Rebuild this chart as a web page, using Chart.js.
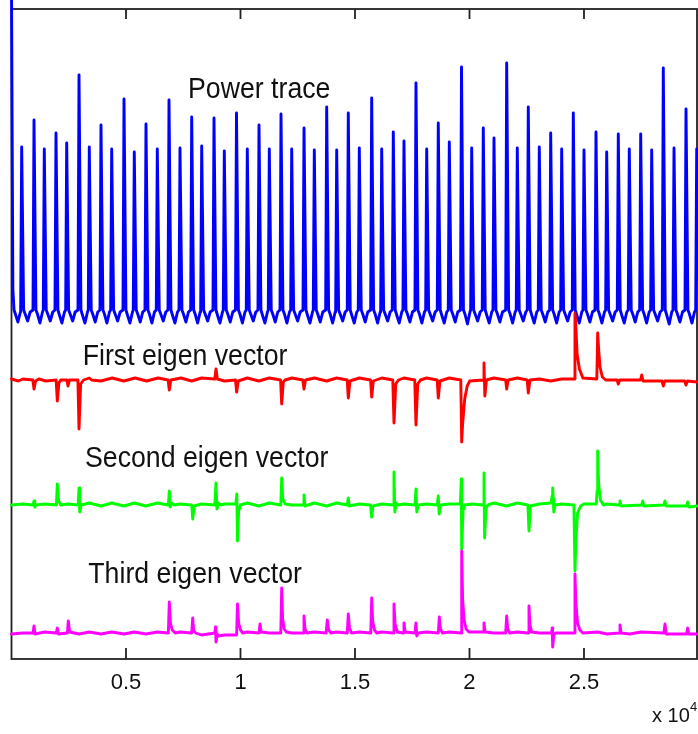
<!DOCTYPE html>
<html>
<head>
<meta charset="utf-8">
<script src="https://cdn.jsdelivr.net/npm/chart.js@4.4.1/dist/chart.umd.min.js"></script>
<style>
  html, body { margin: 0; padding: 0; background: #fff; }
  canvas { display: block; }
</style>
</head>
<body>
<canvas id="c" width="698" height="734"></canvas>
<script>
// x values are sample indices; the axis shows them in units of 10^4
const sampleTicks = [5000, 10000, 15000, 20000, 25000];
const tickLabels = ['0.5', '1', '1.5', '2', '2.5'];
const seriesNames = ['Power trace', 'First eigen vector', 'Second eigen vector', 'Third eigen vector'];

// Power trace (offset upward), one clock cycle per row: rise, peak, fall, ripple
const powerTrace = [
  [0,67.0],[60,37.0],[110,34.9],[170,34.5],[280,33.7],[390,34.7],
  [400,34.9],[445,51.2],[530,34.9],[595,34.5],[705,33.8],[815,34.7],
  [938,34.9],[983,53.9],[1068,34.9],[1133,34.5],[1243,33.6],[1353,34.7],
  [1387,34.9],[1432,51.0],[1517,34.9],[1582,34.5],[1692,33.8],[1802,34.7],
  [1898,34.9],[1943,52.6],[2028,34.9],[2093,34.4],[2203,33.6],[2313,34.7],
  [2365,34.9],[2410,51.6],[2495,34.9],[2560,34.5],[2670,33.8],[2780,34.7],
  [2903,34.9],[2948,58.4],[3033,34.9],[3098,34.4],[3208,33.6],[3318,34.7],
  [3352,34.9],[3397,51.2],[3482,34.9],[3547,34.5],[3657,33.7],[3767,34.7],
  [3863,34.9],[3908,53.4],[3993,34.9],[4058,34.5],[4168,33.6],[4278,34.7],
  [4330,34.9],[4375,51.0],[4460,34.9],[4525,34.5],[4635,33.8],[4745,34.7],
  [4868,34.9],[4913,56.0],[4998,34.9],[5063,34.4],[5173,33.6],[5283,34.7],
  [5317,34.9],[5362,50.7],[5447,34.9],[5512,34.5],[5622,33.7],[5732,34.7],
  [5828,34.9],[5873,53.5],[5958,34.9],[6023,34.5],[6133,33.6],[6243,34.7],
  [6322,34.9],[6367,51.0],[6452,34.9],[6517,34.5],[6627,33.8],[6737,34.7],
  [6833,34.9],[6878,55.9],[6963,34.9],[7028,34.4],[7138,33.6],[7248,34.7],
  [7313,34.9],[7358,51.1],[7443,34.9],[7508,34.5],[7618,33.7],[7728,34.7],
  [7824,34.9],[7869,54.2],[7954,34.9],[8019,34.5],[8129,33.6],[8239,34.7],
  [8261,34.9],[8306,51.3],[8391,34.9],[8456,34.5],[8566,33.8],[8676,34.7],
  [8798,34.9],[8843,54.1],[8928,34.9],[8993,34.4],[9103,33.6],[9213,34.7],
  [9248,34.9],[9293,50.8],[9378,34.9],[9443,34.5],[9553,33.7],[9663,34.7],
  [9780,34.9],[9825,54.6],[9910,34.9],[9975,34.5],[10085,33.6],[10195,34.7],
  [10252,34.9],[10297,51.0],[10382,34.9],[10447,34.5],[10557,33.8],[10667,34.7],
  [10763,34.9],[10808,53.4],[10893,34.9],[10958,34.4],[11068,33.6],[11178,34.7],
  [11213,34.9],[11258,51.0],[11343,34.9],[11408,34.5],[11518,33.7],[11628,34.7],
  [11724,34.9],[11769,54.5],[11854,34.9],[11919,34.5],[12029,33.6],[12139,34.7],
  [12191,34.9],[12236,51.0],[12321,34.9],[12386,34.5],[12496,33.8],[12606,34.7],
  [12729,34.9],[12774,53.1],[12859,34.9],[12924,34.4],[13034,33.6],[13144,34.7],
  [13178,34.9],[13223,50.9],[13308,34.9],[13373,34.5],[13483,33.7],[13593,34.7],
  [13719,34.9],[13764,55.2],[13849,34.9],[13914,34.5],[14024,33.6],[14134,34.7],
  [14156,34.9],[14201,50.9],[14286,34.9],[14351,34.5],[14461,33.8],[14571,34.7],
  [14662,34.9],[14707,54.6],[14792,34.9],[14857,34.4],[14967,33.6],[15077,34.7],
  [15143,34.9],[15188,51.1],[15273,34.9],[15338,34.5],[15448,33.7],[15558,34.7],
  [15684,34.9],[15729,56.1],[15814,34.9],[15879,34.5],[15989,33.6],[16099,34.7],
  [16121,34.9],[16166,51.0],[16251,34.9],[16316,34.5],[16426,33.8],[16536,34.7],
  [16627,34.9],[16672,52.7],[16757,34.9],[16822,34.4],[16932,33.6],[17042,34.7],
  [17094,34.9],[17139,51.8],[17224,34.9],[17289,34.5],[17399,33.7],[17509,34.7],
  [17618,34.9],[17663,57.6],[17748,34.9],[17813,34.5],[17923,33.6],[18033,34.7],
  [18086,34.9],[18131,51.0],[18216,34.9],[18281,34.5],[18391,33.8],[18501,34.7],
  [18592,34.9],[18637,53.6],[18722,34.9],[18787,34.4],[18897,33.6],[19007,34.7],
  [19073,34.9],[19118,51.7],[19203,34.9],[19268,34.5],[19378,33.7],[19488,34.7],
  [19606,34.9],[19651,59.2],[19736,34.9],[19801,34.5],[19911,33.5],[20021,34.7],
  [20051,34.9],[20096,51.1],[20181,34.9],[20246,34.5],[20356,33.8],[20466,34.7],
  [20557,34.9],[20602,53.1],[20687,34.9],[20752,34.4],[20862,33.6],[20972,34.7],
  [21025,34.9],[21070,52.1],[21155,34.9],[21220,34.5],[21330,33.7],[21440,34.7],
  [21579,34.9],[21624,59.6],[21709,34.9],[21774,34.5],[21884,33.6],[21994,34.7],
  [22042,34.9],[22087,51.1],[22172,34.9],[22237,34.5],[22347,33.8],[22457,34.7],
  [22522,34.9],[22567,55.2],[22652,34.9],[22717,34.4],[22827,33.6],[22937,34.7],
  [23003,34.9],[23048,51.2],[23133,34.9],[23198,34.5],[23308,33.7],[23418,34.7],
  [23501,34.9],[23546,52.6],[23631,34.9],[23696,34.5],[23806,33.6],[23916,34.7],
  [23981,34.9],[24026,51.0],[24111,34.9],[24176,34.5],[24286,33.8],[24396,34.7],
  [24488,34.9],[24533,54.6],[24618,34.9],[24683,34.4],[24793,33.6],[24903,34.7],
  [24955,34.9],[25000,50.9],[25085,34.9],[25150,34.5],[25260,33.7],[25370,34.7],
  [25479,34.9],[25524,52.7],[25609,34.9],[25674,34.5],[25784,33.6],[25894,34.7],
  [25946,34.9],[25991,50.7],[26076,34.9],[26141,34.5],[26251,33.8],[26361,34.7],
  [26453,34.9],[26498,52.5],[26583,34.9],[26648,34.4],[26758,33.6],[26868,34.7],
  [26933,34.9],[26978,51.0],[27063,34.9],[27128,34.5],[27238,33.7],[27348,34.7],
  [27431,34.9],[27476,52.5],[27561,34.9],[27626,34.5],[27736,33.6],[27846,34.7],
  [27911,34.9],[27956,50.9],[28041,34.9],[28106,34.5],[28216,33.8],[28326,34.7],
  [28418,34.9],[28463,59.1],[28548,34.9],[28613,34.4],[28723,33.5],[28833,34.7],
  [28886,34.9],[28931,51.1],[29016,34.9],[29081,34.5],[29191,33.7],[29301,34.7],
  [29410,34.9],[29455,55.0],[29540,34.9],[29605,34.5],[29715,33.6],[29825,34.7],
  [29877,34.9],[29922,51.0],[29990,38.0]
];

// First eigen vector (offset)
const firstEigen = [
  [0,28.0],[300,27.8],[500,28.0],
  [930,27.9],[983,27.0],[1050,27.8],[1200,28.0],[1500,27.8],
  [1950,27.9],[2000,25.8],[2070,27.6],[2150,27.9],
  [2420,27.9],[2467,27.3],[2530,27.9],
  [2900,27.9],[2948,23.0],[3020,27.5],[3150,27.9],
  [3400,28.1],[3500,27.9],[3900,27.8],[4400,28.1],[4900,27.8],[5400,28.1],[5900,27.8],[6400,28.1],
  [6840,27.9],[6891,26.9],[6960,27.9],
  [7400,28.1],[7870,27.8],[8300,28.1],
  [8880,28.0],[8930,29.0],[8990,28.0],[9300,27.8],
  [9780,27.9],[9834,26.7],[9900,27.8],
  [10300,28.1],[10800,27.8],[11260,28.1],
  [11750,27.9],[11799,25.5],[11870,27.7],[11950,27.9],[12250,28.1],
  [12720,27.9],[12773,27.0],[12840,27.9],
  [13230,28.1],[13760,27.8],[14200,28.1],
  [14660,27.9],[14707,26.1],[14780,27.8],[15190,28.1],
  [15680,27.9],[15729,26.2],[15800,27.8],[16170,28.1],
  [16650,27.9],[16703,23.6],[16780,27.5],[16900,27.9],[17140,28.1],
  [17610,27.9],[17663,23.4],[17740,27.5],[17860,27.9],[18130,28.1],
  [18590,27.9],[18637,26.1],[18710,27.8],[19120,28.1],
  [19620,27.9],[19659,21.7],[19700,23.5],[19790,26.0],[19900,27.3],[20010,27.8],
  [20590,27.9],[20633,29.6],[20670,26.3],[20740,27.9],[21070,28.1],
  [21580,27.9],[21624,27.0],[21690,27.9],[22090,28.1],
  [22520,27.9],[22567,26.6],[22640,27.9],
  [23050,28.0],[23550,27.8],[24030,28.0],
  [24570,28.0],[24606,34.6],[24650,33.0],[24700,30.5],[24800,29.0],[24950,28.1],
  [25560,28.0],[25598,32.6],[25640,31.0],[25700,29.2],[25800,28.2],[25950,27.9],
  [26450,27.9],[26498,27.5],[26560,27.9],
  [27470,27.9],[27520,28.4],[27580,27.8],
  [28410,27.8],[28463,27.3],[28530,27.8],
  [29400,27.8],[29455,27.4],[29520,27.8],[29935,27.7]
];

// Second eigen vector (offset)
const secondEigen = [
  [0,15.4],[500,15.5],
  [940,15.4],[983,15.8],[1020,15.2],[1080,15.4],[1450,15.5],
  [1960,15.4],[2000,17.5],[2060,15.8],[2150,15.4],[2470,15.5],
  [2910,15.4],[2948,17.1],[2980,14.7],[3040,15.4],
  [3400,15.6],[3910,15.3],[4380,15.6],[4910,15.3],[5360,15.6],[5870,15.3],[6370,15.6],
  [6850,15.4],[6891,16.8],[6930,15.2],[7000,15.6],[7100,15.4],[7360,15.5],
  [7870,15.4],[7913,14.0],[7980,15.3],[8300,15.5],
  [8880,15.4],[8930,17.6],[8970,15.0],[9050,15.6],[9150,15.4],[9300,15.5],
  [9800,15.5],[9840,16.5],[9869,11.8],[9920,14.8],[10000,15.4],
  [10300,15.6],[10810,15.3],[11260,15.6],
  [11760,15.4],[11799,18.1],[11850,16.0],[11950,15.5],[12240,15.4],
  [12730,15.4],[12773,16.4],[12820,15.3],
  [13230,15.6],[13760,15.3],[14200,15.6],
  [14660,15.4],[14707,16.1],[14750,15.3],[15190,15.5],
  [15680,15.4],[15729,14.2],[15790,15.3],[16170,15.5],
  [16660,15.4],[16703,18.7],[16740,14.7],[16800,15.6],[16900,15.4],[17140,15.5],
  [17620,15.4],[17663,17.0],[17700,14.7],[17760,15.4],[18130,15.5],
  [18590,15.4],[18637,16.3],[18675,14.5],[18740,15.4],[19120,15.5],
  [19600,15.5],[19640,18.0],[19659,11.0],[19720,14.9],[19800,15.4],[20100,15.5],
  [20590,15.4],[20633,18.6],[20660,12.1],[20720,15.0],[20800,15.4],
  [21070,15.6],[21624,15.3],[22090,15.6],
  [22550,15.4],[22598,12.8],[22660,15.3],[23050,15.5],
  [23560,15.6],[23610,16.3],[23633,17.1],[23660,16.0],[23680,14.7],[23730,15.4],[24030,15.5],
  [24560,15.4],[24606,8.8],[24650,12.0],[24720,14.6],[24850,15.3],[25000,15.5],
  [25540,15.5],[25570,16.8],[25598,20.8],[25640,17.5],[25720,15.9],[25850,15.4],[26000,15.5],
  [26530,15.4],[26572,15.8],[26620,15.3],
  [27520,15.4],[27564,15.8],[27610,15.3],
  [28490,15.4],[28537,15.8],[28590,15.3],
  [29480,15.3],[29528,15.7],[29580,15.2],[29935,15.3]
];

// Third eigen vector
const thirdEigen = [
  [0,2.5],[500,2.6],
  [940,2.6],[983,3.3],[1030,2.5],[1450,2.7],
  [1960,2.6],[2000,3.1],[2050,2.5],
  [2440,2.6],[2480,3.8],[2540,2.7],
  [2950,2.5],[3400,2.7],[3910,2.5],[4380,2.7],[4910,2.5],[5360,2.7],[5870,2.5],[6370,2.7],
  [6850,2.6],[6891,5.7],[6940,3.6],[7020,2.9],[7150,2.6],[7360,2.7],
  [7870,2.6],[7913,4.1],[7960,2.8],[8050,2.6],[8300,2.4],
  [8880,2.6],[8910,3.2],[8930,1.7],[8980,2.5],[9050,2.3],[9300,2.4],
  [9830,2.4],[9869,5.5],[9920,3.6],[10000,2.9],[10100,2.6],[10300,2.7],
  [10810,2.6],[10852,3.5],[10900,2.7],[11260,2.6],
  [11760,2.6],[11799,7.1],[11840,4.0],[11910,3.0],[12000,2.7],[12240,2.6],
  [12730,2.6],[12773,4.3],[12820,3.0],[12900,2.6],[13230,2.7],
  [13740,2.6],[13790,3.9],[13850,2.9],[13950,2.6],[14200,2.7],
  [14660,2.6],[14707,4.5],[14760,3.1],[14850,2.6],[15190,2.7],
  [15690,2.6],[15729,6.1],[15770,3.8],[15850,2.9],[15950,2.6],[16170,2.7],
  [16660,2.6],[16703,5.5],[16750,3.5],[16850,2.7],
  [17100,2.6],[17139,3.6],[17190,2.7],
  [17620,2.6],[17663,3.6],[17700,2.3],[17760,2.6],[18130,2.7],
  [18640,2.6],[18681,4.2],[18730,3.0],[18820,2.6],[19120,2.7],
  [19630,2.6],[19659,10.8],[19700,6.0],[19760,4.0],[19850,3.0],[19980,2.7],
  [20590,2.7],[20633,3.6],[20680,2.7],[21070,2.6],
  [21580,2.6],[21624,4.3],[21670,3.0],[21760,2.6],[22090,2.7],
  [22555,2.6],[22598,5.3],[22640,3.4],[22720,2.7],[23050,2.6],
  [23590,2.6],[23610,3.1],[23633,1.2],[23680,2.4],[23760,2.6],[24030,2.6],
  [24570,2.6],[24606,8.5],[24650,5.5],[24720,3.6],[24820,2.9],[24950,2.6],
  [25600,2.7],[26000,2.5],
  [26530,2.6],[26572,3.4],[26620,2.6],
  [27000,2.5],[27500,2.7],
  [28490,2.6],[28537,3.5],[28590,2.5],
  [29480,2.5],[29528,3.1],[29580,2.5],[29935,2.5]
];

// where each trace name is written (sample, value at text baseline)
const labelAnchors = [[7708, 56.1], [3109, 29.4], [3210, 19.2], [3354, 7.6]];

const textColor = '#111';
const axisColor = '#222';

const annotate = {
  id: 'annotate',
  beforeDatasetsDraw(chart) {
    const { ctx, chartArea: a, scales: { x } } = chart;
    ctx.save();
    ctx.strokeStyle = axisColor;
    ctx.lineWidth = 1.8;
    ctx.strokeRect(a.left, a.top, a.right - a.left, a.bottom - a.top);
    ctx.beginPath();
    sampleTicks.forEach(v => {
      const px = x.getPixelForValue(v);
      ctx.moveTo(px, a.bottom); ctx.lineTo(px, a.bottom - 11);
      ctx.moveTo(px, a.top); ctx.lineTo(px, a.top + 10);
    });
    ctx.stroke();
    ctx.restore();
  },
  afterDatasetsDraw(chart) {
    const { ctx, chartArea: a, scales: { x, y } } = chart;
    ctx.save();
    ctx.fillStyle = textColor;
    ctx.textBaseline = 'alphabetic';

    // trace names
    ctx.textAlign = 'left';
    seriesNames.forEach((t, i) => {
      const px = x.getPixelForValue(labelAnchors[i][0]);
      const py = y.getPixelForValue(labelAnchors[i][1]);
      ctx.save();
      ctx.translate(px, py);
      ctx.scale(0.89, 1);
      ctx.font = '30px "Liberation Sans", Arial, sans-serif';
      ctx.fillText(t, 0, 0);
      ctx.restore();
    });

    // tick labels
    ctx.textAlign = 'center';
    ctx.font = '22px "Liberation Sans", Arial, sans-serif';
    sampleTicks.forEach((v, i) => {
      ctx.fillText(tickLabels[i], x.getPixelForValue(v), a.bottom + 30);
    });

    // axis multiplier
    ctx.textAlign = 'left';
    ctx.font = '20px "Liberation Sans", Arial, sans-serif';
    ctx.fillText('x 10', a.right - 45, a.bottom + 63);
    ctx.font = '13px "Liberation Sans", Arial, sans-serif';
    ctx.fillText('4', a.right - 7, a.bottom + 52);
    ctx.restore();
  }
};

const line = (data, color, order) => ({
  data, borderColor: color, backgroundColor: color, order,
  borderWidth: 2.9, pointRadius: 0, tension: 0, fill: false, clip: false
});

new Chart(document.getElementById('c'), {
  type: 'line',
  data: {
    datasets: [
      line(powerTrace, '#0000ff', 4),
      line(firstEigen, '#ff0000', 3),
      line(secondEigen, '#00ff00', 2),
      line(thirdEigen, '#ff00ff', 1)
    ]
  },
  options: {
    responsive: false,
    animation: false,
    events: [],
    layout: { padding: { left: 11.5, right: 1, top: 9, bottom: 75 } },
    plugins: { legend: { display: false }, tooltip: { enabled: false } },
    elements: { line: { borderJoinStyle: 'round', borderCapStyle: 'round' } },
    scales: {
      x: { type: 'linear', min: 0, max: 29935, display: false },
      y: { min: 0, max: 65, display: false }
    }
  },
  plugins: [annotate]
});
</script>
</body>
</html>
